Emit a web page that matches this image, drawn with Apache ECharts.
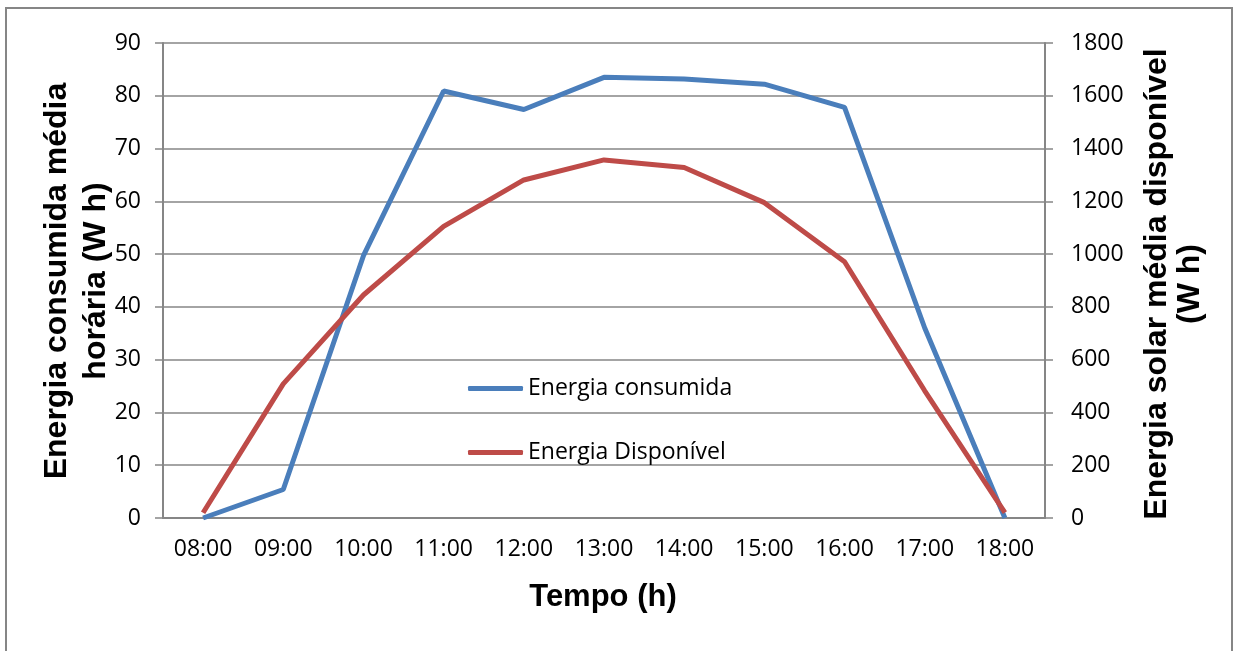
<!DOCTYPE html>
<html>
<head>
<meta charset="utf-8">
<script src="https://cdn.jsdelivr.net/npm/echarts@6/dist/echarts.min.js"></script>
<style>html,body{margin:0;padding:0;background:#fff}#c{width:1241px;height:651px}</style>
</head>
<body>
<div id="c"></div>
<script>
const categories = ['08:00','09:00','10:00','11:00','12:00','13:00','14:00','15:00','16:00','17:00','18:00'];
const energiaConsumida = [0, 5.4, 49.7, 80.9, 77.4, 83.5, 83.2, 82.2, 77.8, 36.0, 0];
const energiaDisponivel = [20, 508, 845, 1105, 1281, 1357, 1328, 1195, 971, 482, 20];
const seriesNames = ['Energia consumida', 'Energia Disponível'];
const leftTitle = 'Energia consumida média\nhorária (W h)';
const rightTitle = 'Energia solar média disponível\n(W h)';
const xTitle = 'Tempo (h)';

const gray = '#868686';
const tickFont = { fontFamily: 'Open Sans', fontSize: 23, color: '#000' };
const legendCommon = { orient: 'vertical', icon: 'roundRect', itemWidth: 55, itemHeight: 5, itemGap: 0, padding: 0,
  textStyle: { fontFamily: 'Open Sans', fontSize: 23, color: '#000' } };
const chart = echarts.init(document.getElementById('c'), null, { renderer: 'canvas' });
chart.setOption({
  animation: false,
  backgroundColor: '#fff',
  grid: { left: 163, right: 196, top: 43, bottom: 133 },
  legend: [
    Object.assign({ data: [seriesNames[0]], left: 468, top: 377 }, legendCommon),
    Object.assign({ data: [seriesNames[1]], left: 468, top: 441 }, legendCommon)
  ],
  xAxis: {
    type: 'category', data: categories, boundaryGap: true,
    axisLine: { lineStyle: { color: gray, width: 2 } },
    axisTick: { show: false },
    axisLabel: Object.assign({ margin: 20 }, tickFont)
  },
  yAxis: [
    { type: 'value', min: 0, max: 90, interval: 10, position: 'left',
      axisLine: { show: true, lineStyle: { color: gray, width: 2 } },
      axisTick: { show: true, length: 8, lineStyle: { color: gray, width: 1.5 } },
      splitLine: { show: true, lineStyle: { color: gray, width: 1.5 } },
      axisLabel: Object.assign({ margin: 22, formatter: v => String(v) }, tickFont) },
    { type: 'value', min: 0, max: 1800, interval: 200, position: 'right',
      axisLine: { show: true, lineStyle: { color: gray, width: 2 } },
      axisTick: { show: true, length: 8, lineStyle: { color: gray, width: 1.5 } },
      splitLine: { show: false },
      axisLabel: Object.assign({ margin: 26, formatter: v => String(v) }, tickFont) }
  ],
  series: [
    { name: seriesNames[0], type: 'line', yAxisIndex: 0, data: energiaConsumida, showSymbol: false, symbol: 'none',
      lineStyle: { color: '#4A7EBB', width: 5 }, itemStyle: { color: '#4A7EBB' } },
    { name: seriesNames[1], type: 'line', yAxisIndex: 1, data: energiaDisponivel, showSymbol: false, symbol: 'none',
      lineStyle: { color: '#BE4B48', width: 5 }, itemStyle: { color: '#BE4B48' } }
  ],
  graphic: [
    { type: 'rect', shape: { x: 6, y: 8, width: 1226, height: 660 }, style: { fill: null, stroke: gray, lineWidth: 2 }, silent: true, z: -1 },
    { type: 'text', x: 77, y: 281, rotation: Math.PI / 2,
      style: { text: leftTitle, fontFamily: 'Liberation Sans', fontWeight: 'bold', fontSize: 32, lineHeight: 39, align: 'center', verticalAlign: 'middle', fill: '#000' } },
    { type: 'text', x: 1174, y: 284, rotation: Math.PI / 2,
      style: { text: rightTitle, fontFamily: 'Liberation Sans', fontWeight: 'bold', fontSize: 32, lineHeight: 33, align: 'center', verticalAlign: 'middle', fill: '#000' } },
    { type: 'text', x: 603, y: 597,
      style: { text: xTitle, fontFamily: 'Liberation Sans', fontWeight: 'bold', fontSize: 31, align: 'center', verticalAlign: 'middle', fill: '#000' } }
  ]
});
</script>
</body>
</html>
